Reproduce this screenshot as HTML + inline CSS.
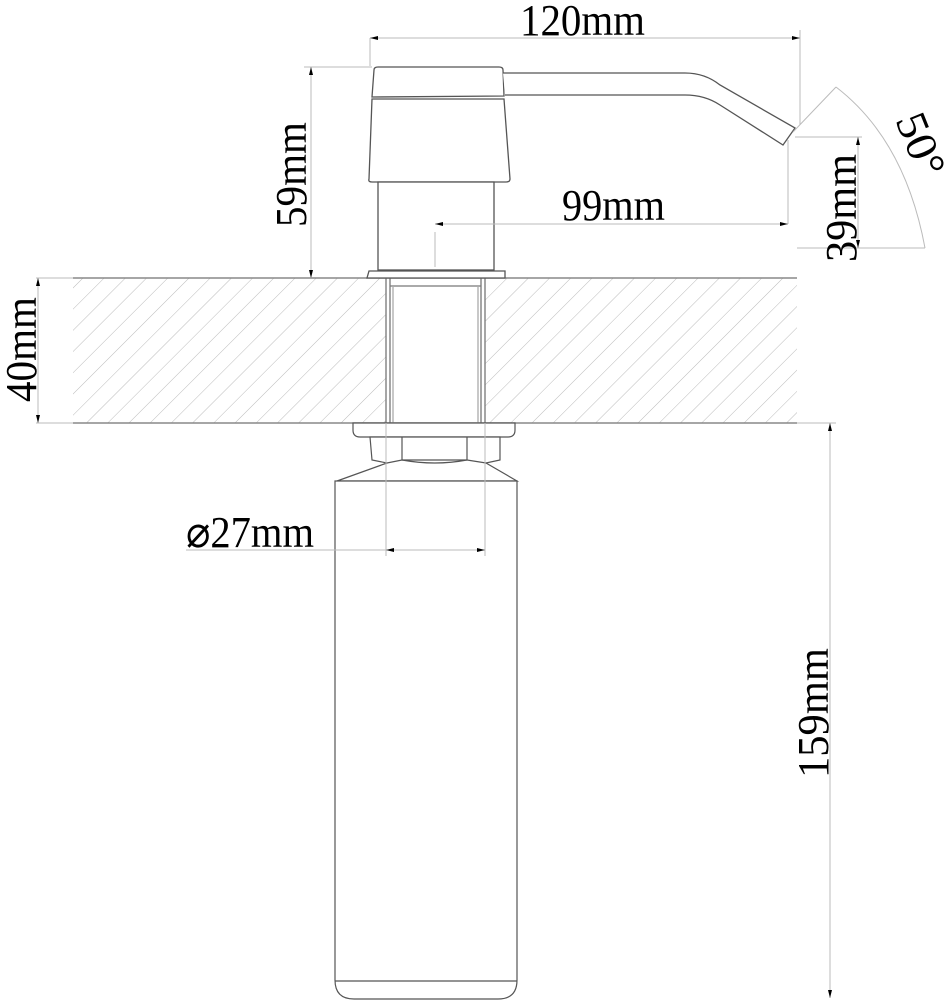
<!DOCTYPE html>
<html><head><meta charset="utf-8"><style>html,body{margin:0;padding:0;background:#fff}svg{display:block}</style></head>
<body>
<svg width="950" height="1000" viewBox="0 0 950 1000" xmlns="http://www.w3.org/2000/svg">
<defs>
<pattern id="h" patternUnits="userSpaceOnUse" width="15" height="15" patternTransform="rotate(45)">
<line x1="0" y1="0" x2="0" y2="15" stroke="#bbb" stroke-width="1"/>
</pattern>
</defs>
<rect x="73" y="278" width="313" height="145" fill="url(#h)"/>
<rect x="485" y="278" width="312" height="145" fill="url(#h)"/>
<line x1="73" y1="278" x2="797" y2="278" stroke="#888" stroke-width="1.5"/>
<line x1="73" y1="423" x2="797" y2="423" stroke="#888" stroke-width="1.5"/>
<g fill="none" stroke="#777" stroke-width="1.3">
<line x1="386" y1="278" x2="386" y2="423"/><line x1="390" y1="278" x2="390" y2="423"/>
<line x1="485" y1="278" x2="485" y2="423"/><line x1="481" y1="278" x2="481" y2="423"/>
<line x1="390" y1="286" x2="481" y2="286"/>
<line x1="393" y1="286" x2="393" y2="423" stroke="#aaa"/><line x1="478" y1="286" x2="478" y2="423" stroke="#aaa"/>
</g>
<g fill="#fff" stroke="#555" stroke-width="1.3">
<path d="M374,70 Q374,67 378,67 L499,67 Q503,67 503,70 L504,96 L372,97 Z"/>
<path d="M372,99 L504,99 L510,179 Q510,182 506,182 L372,182 Q368,182 369,179 Z"/>
<path d="M503,73 L685,73 Q705,73 720,85 L795,128 L783,145 L720,105 Q705,95 685,95 L505,95"/>
<rect x="378" y="182" width="116" height="88"/>
<path d="M369,271 L505,271 L505,278 L367,278 Z"/>
</g>
<line x1="435" y1="232" x2="435" y2="267" stroke="#bbb"/>
<g fill="#fff" stroke="#555" stroke-width="1.2">
<path d="M353,423 L515,423 L515,430 Q515,437 508,437 L360,437 Q353,437 353,430 Z"/>
<path d="M370,437 L500,437 L500,460 L486,463 L467,460 L402,460 L387,463 L372,460 Z"/>
<line x1="402" y1="437" x2="402" y2="460"/><line x1="467" y1="437" x2="467" y2="460"/>
<path d="M402,460 Q435,466 467,460" fill="none"/>
<path d="M387,463 L337,481 L517,481 L486,463" fill="none"/>
<path d="M335,481 L517,481 L517,980 Q517,999 498,999 L354,999 Q335,999 335,980 Z"/>
<line x1="335" y1="981" x2="517" y2="981"/>
</g>
<g stroke="#bbb" stroke-width="1" fill="none">
<line x1="370" y1="38" x2="800" y2="38"/><line x1="370" y1="38" x2="370" y2="66"/><line x1="800" y1="30" x2="800" y2="125"/>
<line x1="304" y1="67" x2="372" y2="67"/><line x1="311" y1="67" x2="311" y2="278"/>
<line x1="435" y1="224" x2="788" y2="224"/><line x1="788" y1="140" x2="788" y2="224"/>
<line x1="795" y1="137" x2="862" y2="137"/><line x1="858" y1="137" x2="858" y2="248"/><line x1="797" y1="248" x2="925" y2="248"/>
<line x1="793" y1="132" x2="836" y2="87"/>
<path d="M836,87 Q905,140 925,248"/>
<line x1="36" y1="278" x2="73" y2="278"/><line x1="36" y1="423" x2="73" y2="423"/><line x1="38" y1="278" x2="38" y2="423"/>
<line x1="186" y1="550" x2="485" y2="550"/><line x1="386" y1="423" x2="386" y2="556"/><line x1="485" y1="423" x2="485" y2="556"/>
<line x1="797" y1="423" x2="836" y2="423"/><line x1="830" y1="423" x2="830" y2="998"/>
</g>
<g fill="#000">
<path d="M370,38 l8,-2 l0,4 z"/><path d="M800,38 l-8,-2 l0,4 z"/>
<path d="M311,67 l-2,8 l4,0 z"/><path d="M311,278 l-2,-8 l4,0 z"/>
<path d="M435,224 l8,-2 l0,4 z"/><path d="M788,224 l-8,-2 l0,4 z"/>
<path d="M858,137 l-2,8 l4,0 z"/><path d="M858,248 l-2,-8 l4,0 z"/>
<path d="M38,278 l-2,8 l4,0 z"/><path d="M38,423 l-2,-8 l4,0 z"/>
<path d="M386,550 l8,-2 l0,4 z"/><path d="M485,550 l-8,-2 l0,4 z"/>
<path d="M830,423 l-2,8 l4,0 z"/><path d="M830,998 l-2,-8 l4,0 z"/>
</g>
<g font-family="Liberation Serif, serif" font-size="44" fill="#000">
<text x="520" y="35" textLength="125" lengthAdjust="spacingAndGlyphs">120mm</text>
<text x="562" y="220" textLength="103" lengthAdjust="spacingAndGlyphs">99mm</text>
<text x="186" y="547" textLength="128" lengthAdjust="spacingAndGlyphs">⌀27mm</text>
<text transform="translate(306,227) rotate(-90)" textLength="105" lengthAdjust="spacingAndGlyphs">59mm</text>
<text transform="translate(856,262) rotate(-90)" textLength="108" lengthAdjust="spacingAndGlyphs">39mm</text>
<text transform="translate(36,402) rotate(-90)" textLength="105" lengthAdjust="spacingAndGlyphs">40mm</text>
<text transform="translate(828,778) rotate(-90)" textLength="130" lengthAdjust="spacingAndGlyphs">159mm</text>
<text transform="translate(895,120) rotate(68)" textLength="65" lengthAdjust="spacingAndGlyphs">50°</text>
</g>
</svg>
</body></html>
